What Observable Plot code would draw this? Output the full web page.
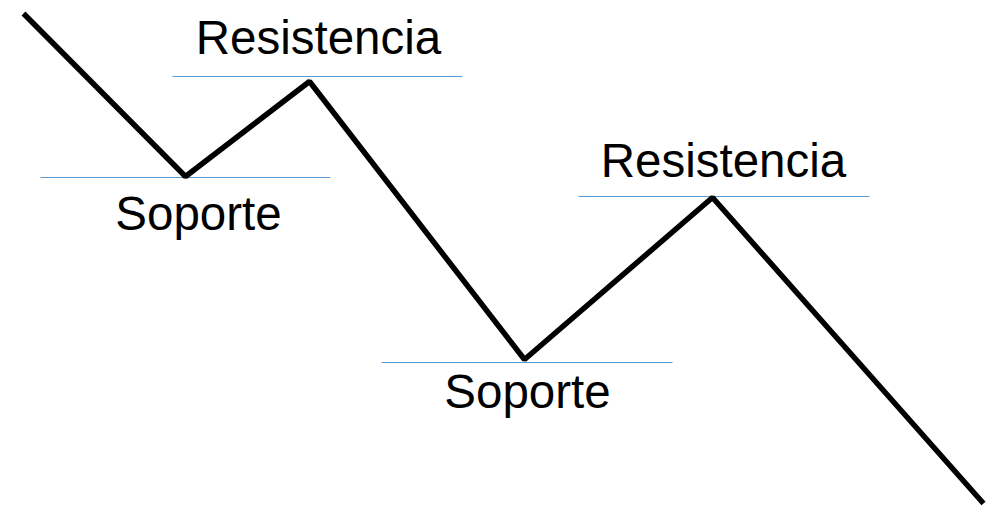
<!DOCTYPE html>
<html>
<head>
<meta charset="utf-8">
<script src="https://cdn.jsdelivr.net/npm/d3@7"></script>
<script src="https://cdn.jsdelivr.net/npm/@observablehq/plot@0.6"></script>
<style>
  html, body { margin: 0; padding: 0; background: #fff; }
  #chart svg { display: block; }
</style>
</head>
<body>
<div id="chart"></div>
<script>
// Price path (time, price) — zigzag downtrend
const pathT = [23, 185, 309, 524, 712, 983];
const pathP = [498, 335, 430, 152, 314, 8];

// Support / resistance levels
const levelNames = ["Resistencia", "Soporte", "Resistencia", "Soporte"];
const levelValue = [435, 334, 315, 149];
const levelStart = [172, 40, 578, 381];
const levelEnd = [462, 330, 869, 672];

// Label anchor points (time, price of baseline)
const labelT = [318, 198, 723, 527];
const labelP = [458, 282, 335, 104];

const path = pathT.map((t, i) => ({t, p: pathP[i]}));
const levels = levelNames.map((name, i) => ({name, v: levelValue[i], x1: levelStart[i], x2: levelEnd[i]}));
const labels = levelNames.map((name, i) => ({name, t: labelT[i], p: labelP[i]}));

const chart = Plot.plot({
  width: 997,
  height: 511,
  margin: 0,
  style: {background: "#fff", fontFamily: "'Liberation Sans', Arial, sans-serif"},
  x: {domain: [0, 997], axis: null},
  y: {domain: [0, 511], axis: null},
  marks: [
    Plot.link(levels, {x1: "x1", x2: "x2", y1: "v", y2: "v", stroke: "#5b9bd5", strokeWidth: 1.2}),
    Plot.line(path, {x: "t", y: "p", stroke: "#000", strokeWidth: 5.5, strokeLinejoin: "miter", strokeLinecap: "butt", curve: "linear"}),
    Plot.text(labels, {x: "t", y: "p", text: "name", fontSize: 47.5, lineAnchor: "bottom", textAnchor: "middle", fill: "#000"})
  ]
});
document.getElementById("chart").appendChild(chart);
</script>
</body>
</html>
